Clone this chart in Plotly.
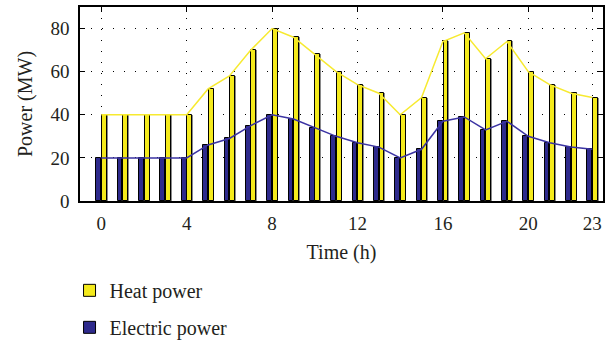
import plotly.graph_objects as go

hours = list(range(24))
heat_power = [40, 40, 40, 40, 40, 52, 58, 70, 80, 76, 68, 60, 54, 50, 40, 48, 74, 78, 66, 74, 60, 54, 50, 48]
electric_power = [20, 20, 20, 20, 20, 26, 29, 35, 40, 38, 34, 30, 27, 25, 20, 24, 37, 39, 33, 37, 30, 27, 25, 24]
x_ticks = [0, 4, 8, 12, 16, 20, 23]
y_ticks = [0, 20, 40, 60, 80]

YELLOW = "#f4ea1c"
BLUE = "#2e2a8c"
FONT = "'Liberation Serif', 'Times New Roman', serif"

fig = go.Figure()
# shadows
fig.add_trace(go.Bar(x=hours, y=heat_power, offset=0.06, width=0.23,
                     marker=dict(color="#8a8a8a", line=dict(width=0)),
                     showlegend=False, hoverinfo="skip"))
fig.add_trace(go.Bar(x=hours, y=electric_power, offset=-0.2, width=0.22,
                     marker=dict(color="#8a8a8a", line=dict(width=0)),
                     showlegend=False, hoverinfo="skip"))
fig.add_trace(go.Bar(x=hours, y=electric_power, offset=-0.23, width=0.22,
                     name="Electric power", legendgroup="e", legendrank=2,
                     marker=dict(color=BLUE, line=dict(color="black", width=1))))
fig.add_trace(go.Bar(x=hours, y=heat_power, offset=0.03, width=0.23,
                     name="Heat power", legendgroup="h", legendrank=1,
                     marker=dict(color=YELLOW, line=dict(color="black", width=1))))
fig.add_trace(go.Scatter(x=hours, y=heat_power, mode="lines",
                         line=dict(color="#f7ea30", width=1.5), showlegend=False))
fig.add_trace(go.Scatter(x=hours, y=electric_power, mode="lines",
                         line=dict(color="#3b33a3", width=1.5), showlegend=False))

fig.update_layout(
    width=605, height=347,
    margin=dict(l=80, r=0, t=7, b=142),
    paper_bgcolor="white", plot_bgcolor="white",
    barmode="overlay", bargap=0,
    font=dict(family=FONT, size=20, color="#231f20"),
    showlegend=True,
    legend=dict(x=-0.02, xanchor="left", y=-0.36, yanchor="top",
                orientation="v", traceorder="grouped", tracegroupgap=8,
                font=dict(family=FONT, size=20, color="#231f20"),
                bgcolor="rgba(0,0,0,0)"),
)
fig.update_xaxes(range=[-1, 23.5], tickvals=x_ticks, ticktext=[str(t) for t in x_ticks],
                 showline=True, linecolor="black", linewidth=1.5, mirror="ticks",
                 ticks="inside", ticklen=5, tickcolor="black", ticklabelstandoff=4,
                 showgrid=True, gridcolor="black", gridwidth=1, griddash="1px,10px",
                 zeroline=False, tickfont=dict(family=FONT, size=19),
                 title=dict(text="Time (h)", font=dict(family=FONT, size=20), standoff=12))
fig.update_yaxes(range=[0, 90], tickvals=y_ticks,
                 showline=True, linecolor="black", linewidth=1.5, mirror="ticks",
                 ticks="inside", ticklen=5, tickcolor="black", ticklabelstandoff=5,
                 showgrid=True, gridcolor="black", gridwidth=1, griddash="1px,10px",
                 zeroline=False, tickfont=dict(family=FONT, size=19),
                 title=dict(text="Power (MW)", font=dict(family=FONT, size=20), standoff=12))

fig.write_html("out.html")
